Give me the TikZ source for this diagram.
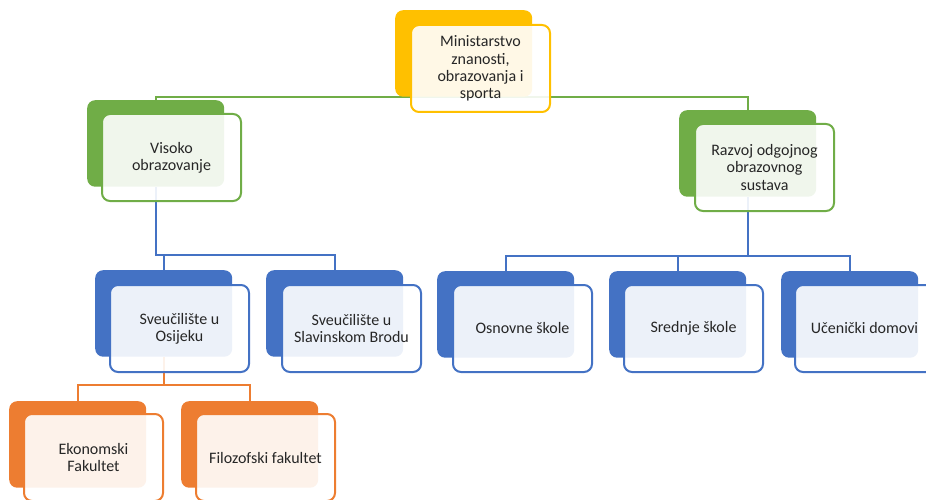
\documentclass[tikz,border=0pt]{standalone}
\usepackage{fontspec}
\setmainfont{Carlito}
\usetikzlibrary{backgrounds}

\definecolor{gold}{HTML}{FFC000}
\definecolor{leaf}{HTML}{70AD47}
\definecolor{sky}{HTML}{4472C4}
\definecolor{rust}{HTML}{ED7D31}

\tikzset{
  backbox/.style={fill=#1, rounded corners=8pt, minimum width=137pt, minimum height=86.5pt, anchor=north west, inner sep=0pt},
  frontbox/.style={draw=#1, line width=2pt, fill=white, fill opacity=0.9, text opacity=1, rounded corners=8pt, minimum width=139pt, minimum height=87pt, anchor=north west, inner sep=2pt, align=center, font=\fontsize{16}{17.3}\selectfont, text=black!85},
  link/.style={draw=#1, line width=2pt}
}

\begin{document}
\begin{tikzpicture}[x=1pt, y=-1pt]
\useasboundingbox (0,0) rectangle (926,500);
\clip (0,0) rectangle (926,500);
% back boxes
\node[backbox=gold] (minB) at (395,10) {};
\node[backbox=leaf] (visB) at (87,100) {};
\node[backbox=leaf] (razB) at (679,110) {};
\node[backbox=sky] (osiB) at (95,270) {};
\node[backbox=sky] (slaB) at (266,270) {};
\node[backbox=sky] (osnB) at (437,271) {};
\node[backbox=sky] (sreB) at (609,271) {};
\node[backbox=sky] (uceB) at (781,271) {};
\node[backbox=rust] (ekoB) at (9,401) {};
\node[backbox=rust] (filB) at (181,401) {};
% front boxes with the text
\node[frontbox=gold] (min) at (410,24) {Ministarstvo\\znanosti,\\obrazovanja i\\sporta};
\node[frontbox=leaf] (vis) at (101,113) {Visoko\\obrazovanje};
\node[frontbox=leaf] (raz) at (694,123) {Razvoj odgojnog\\obrazovnog\\sustava};
\node[frontbox=sky] (osi) at (109,284) {Sveučilište u\\Osijeku};
\node[frontbox=sky] (sla) at (281,284) {Sveučilište u\\Slavinskom Brodu};
\node[frontbox=sky] (osn) at (452,284) {Osnovne škole};
\node[frontbox=sky] (sre) at (623,284) {Srednje škole};
\node[frontbox=sky] (uce) at (794,284) {Učenički domovi};
\node[frontbox=rust] (eko) at (23,413) {Ekonomski\\Fakultet};
\node[frontbox=rust] (fil) at (195,413) {Filozofski fakultet};
% connectors
\begin{scope}[on background layer]
\draw[link=leaf] (visB.north) |- (minB.south) -| (razB.north);
\draw[link=sky] (visB.south) |- ([yshift=15pt]slaB.north) -- (slaB.north);
\draw[link=sky] (osiB.north) -- ([yshift=15pt]osiB.north);
\draw[link=sky] (razB.south) |- ([yshift=15pt]osnB.north) -- (osnB.north);
\draw[link=sky] (razB.south) |- ([yshift=15pt]uceB.north) -- (uceB.north);
\draw[link=sky] (sreB.north) -- ([yshift=15pt]sreB.north);
\draw[link=rust] (osiB.south) |- ([yshift=16pt]ekoB.north) -- (ekoB.north);
\draw[link=rust] (osiB.south) |- ([yshift=16pt]filB.north) -- (filB.north);
\end{scope}
\end{tikzpicture}
\end{document}
